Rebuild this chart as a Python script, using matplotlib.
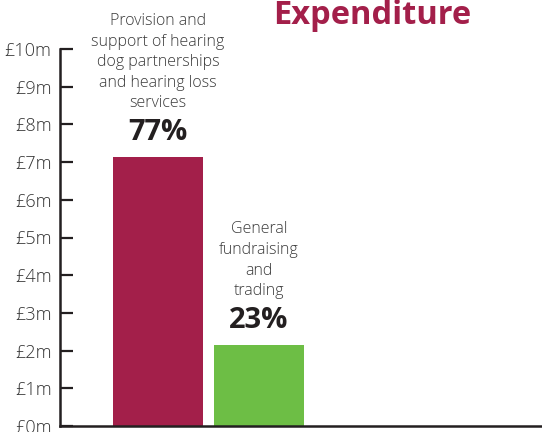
import matplotlib
matplotlib.use("Agg")
import matplotlib.pyplot as plt
import numpy as np

# expenditure split, values in £m
categories = ["Provision and\nsupport of hearing\ndog partnerships\nand hearing loss\nservices",
              "General\nfundraising\nand\ntrading"]
values = [7.13, 2.15]
shares = ["77%", "23%"]
bar_colors = ["#A31F4A", "#6DBE45"]
yticks = list(range(0, 11))
ytick_labels = ["£%dm" % v for v in yticks]

plt.rcParams['font.family'] = ['Open Sans', 'DejaVu Sans']

fig = plt.figure(figsize=(5.42, 4.32), dpi=100)
ax = fig.add_axes([60 / 542, 6 / 432, 482 / 542, 377 / 432])

x = np.arange(len(values))
ax.bar(x, values, width=0.89, color=bar_colors)

ax.set_ylim(0, 10)
ax.set_xlim(-0.97, 3.80)
ax.set_yticks(yticks)
ax.set_yticklabels(ytick_labels, fontsize=13, color="#333333", fontweight="light")
ax.set_xticks([])
ax.tick_params(axis="y", direction="in", length=9, width=1.6, color="#231f20", pad=6)
for side in ["top", "right"]:
    ax.spines[side].set_visible(False)
for side in ["left", "bottom"]:
    ax.spines[side].set_linewidth(1.8)
    ax.spines[side].set_color("#231f20")
ax.spines["left"].set_bounds(0, 10)

# percent and category labels above each bar
for xi, v, share, cat in zip(x, values, shares, categories):
    ax.annotate(share, (xi, v), xytext=(0, 7), textcoords="offset points",
                ha="center", va="bottom", fontsize=21, fontweight="bold", color="#231f20")
    ax.annotate(cat, (xi, v), xytext=(0, 33), textcoords="offset points",
                ha="center", va="bottom", fontsize=11.5, color="#3a3a3a",
                fontweight="light", linespacing=1.38)

fig.text(372 / 542, 1 - 15 / 432, "Expenditure", ha="center", va="center",
         fontsize=23.5, fontweight="bold", color="#A31F4A")

fig.savefig("out.png", dpi=100)
